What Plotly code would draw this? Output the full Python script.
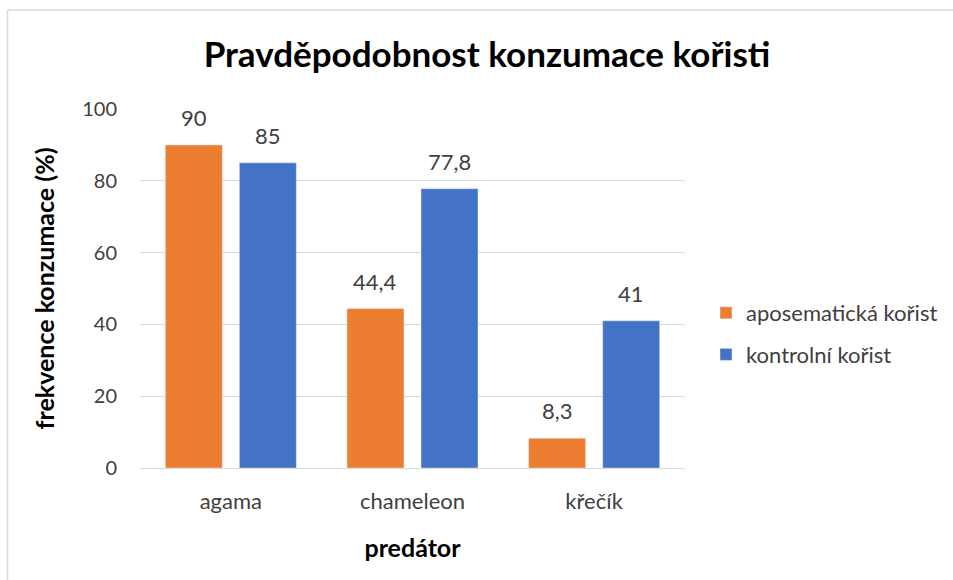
import plotly.graph_objects as go

categories = ["agama", "chameleon", "křečík"]
aposematic = [90, 44.4, 8.3]
control = [85, 77.8, 41]
series_names = ["aposematická kořist", "kontrolní kořist"]
y_ticks = [0, 20, 40, 60, 80, 100]

def fmt(v):
    return str(int(v)) if float(v).is_integer() else str(v).replace(".", ",")

W, H = 953, 580
ML, MR, MT, MB = 140, 268, 109, 112
PW, PH = W - ML - MR, H - MT - MB
FONT = "Lato, 'Open Sans', sans-serif"

fig = go.Figure()
fig.add_bar(x=categories, y=aposematic, name=series_names[0], marker_color="#ED7D31",
            legendgroup="a", hoverinfo="skip")
fig.add_bar(x=categories, y=control, name=series_names[1], marker_color="#4472C4",
            legendgroup="b", hoverinfo="skip")

slot = PW / 3 * (1 - 0.185) / 2
annotations = []
for vals, sh in ((aposematic, -slot / 2), (control, slot / 2)):
    for c, v in zip(categories, vals):
        annotations.append(dict(x=c, y=v, xref="x", yref="y", text=fmt(v), showarrow=False,
                                xshift=sh, yshift=12, yanchor="bottom",
                                font=dict(size=22, color="#404040", family=FONT)))

x0 = (7.5 - ML) / PW
y1 = (H - MB - 10) / PH
shapes = [
    dict(type="line", xref="paper", yref="paper", x0=x0, x1=x0, y0=-1, y1=y1,
         line=dict(color="#D9D9D9", width=1.5)),
    dict(type="line", xref="paper", yref="paper", x0=x0, x1=(W - ML) / PW + 0.1, y0=y1, y1=y1,
         line=dict(color="#D9D9D9", width=1.5)),
]

fig.update_layout(
    width=W, height=H,
    margin=dict(l=ML, r=MR, t=MT, b=MB, autoexpand=False),
    paper_bgcolor="white", plot_bgcolor="white",
    barmode="group", bargap=0.185, bargroupgap=0.23,
    title=dict(text="<b>Pravděpodobnost konzumace kořisti</b>", x=487 / W, xanchor="center",
               y=1 - 55 / H, yanchor="middle", font=dict(size=35, color="#000000", family=FONT)),
    font=dict(family=FONT, color="#595959"),
    xaxis=dict(showgrid=False, showline=True, linecolor="#D9D9D9", linewidth=1,
               tickfont=dict(size=22, color="#404040"), ticks="", ticklabelstandoff=14,
               title=dict(text="<b>predátor</b>", font=dict(size=25, color="#000000"), standoff=26)),
    yaxis=dict(range=[0, 100], tickvals=y_ticks, showgrid=True, gridcolor="#D9D9D9", gridwidth=1,
               zeroline=False, showline=False, tickfont=dict(size=20, color="#404040"),
               ticklabelstandoff=22,
               title=dict(text="<b>frekvence konzumace (%)</b>", font=dict(size=25, color="#000000"),
                          standoff=20)),
    legend=dict(x=(706 - ML) / PW, xanchor="left", y=(H - MB - 334) / PH, yanchor="middle",
                font=dict(size=22, color="#404040"), tracegroupgap=10, traceorder="grouped",
                itemwidth=30),
    annotations=annotations,
    shapes=shapes,
)

fig.write_html("out.html", config={"displayModeBar": False},
               post_script="document.body.style.margin='0';")
